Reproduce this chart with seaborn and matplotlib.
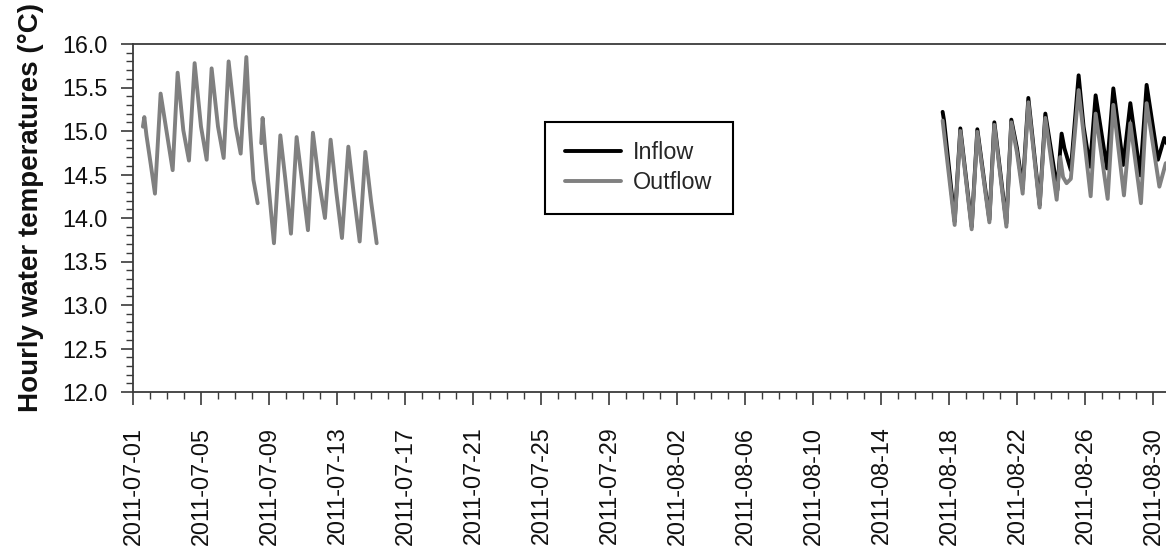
import matplotlib
matplotlib.use("Agg")
import matplotlib.pyplot as plt
import matplotlib.dates as mdates
from matplotlib.lines import Line2D
from matplotlib.ticker import MultipleLocator, FormatStrFormatter
import pandas as pd
import seaborn as sns

# Hourly water temperature turning points (°C)
outflow_jul1_time = [
    "2011-07-01 14:00", "2011-07-01 16:00", "2011-07-01 19:00", "2011-07-02 01:00",
    "2011-07-02 07:00", "2011-07-02 15:00", "2011-07-03 02:00", "2011-07-03 08:00",
    "2011-07-03 15:00", "2011-07-03 23:00", "2011-07-04 07:00", "2011-07-04 15:00",
    "2011-07-05 00:00", "2011-07-05 08:00", "2011-07-05 15:00", "2011-07-06 00:00",
    "2011-07-06 08:00", "2011-07-06 15:00", "2011-07-07 01:00", "2011-07-07 08:00",
    "2011-07-07 16:00", "2011-07-07 21:00", "2011-07-08 02:00", "2011-07-08 08:00",
]
outflow_jul1_temp = [
    15.05, 15.16, 14.95, 14.62,
    14.28, 15.43, 14.86, 14.55,
    15.67, 15.01, 14.66, 15.78,
    15.05, 14.67, 15.72, 15.05,
    14.69, 15.80, 15.05, 14.74,
    15.85, 15.05, 14.44, 14.17,
]

outflow_jul2_time = [
    "2011-07-08 13:00", "2011-07-08 15:00", "2011-07-08 19:00", "2011-07-09 07:00",
    "2011-07-09 16:00", "2011-07-09 23:00", "2011-07-10 07:00", "2011-07-10 15:00",
    "2011-07-10 23:00", "2011-07-11 07:00", "2011-07-11 14:00", "2011-07-11 22:00",
    "2011-07-12 07:00", "2011-07-12 15:00", "2011-07-12 23:00", "2011-07-13 07:00",
    "2011-07-13 16:00", "2011-07-14 00:00", "2011-07-14 08:00", "2011-07-14 16:00",
    "2011-07-15 00:00", "2011-07-15 08:00",
]
outflow_jul2_temp = [
    14.86, 15.15, 14.75, 13.71,
    14.95, 14.45, 13.82, 14.93,
    14.40, 13.86, 14.98, 14.45,
    14.00, 14.90, 14.30, 13.77,
    14.82, 14.25, 13.73, 14.76,
    14.20, 13.71,
]

inflow_aug_time = [
    "2011-08-17 15:00", "2011-08-17 17:00", "2011-08-18 08:00", "2011-08-18 16:00",
    "2011-08-19 08:00", "2011-08-19 16:00", "2011-08-20 09:00", "2011-08-20 16:00",
    "2011-08-21 09:00", "2011-08-21 16:00", "2011-08-22 00:00", "2011-08-22 08:00",
    "2011-08-22 16:00", "2011-08-23 08:00", "2011-08-23 16:00", "2011-08-24 09:00",
    "2011-08-24 13:00", "2011-08-24 15:00", "2011-08-24 19:00", "2011-08-25 04:00",
    "2011-08-25 15:00", "2011-08-25 22:00", "2011-08-26 07:00", "2011-08-26 15:00",
    "2011-08-27 07:00", "2011-08-27 16:00", "2011-08-28 06:00", "2011-08-28 16:00",
    "2011-08-29 06:00", "2011-08-29 15:00", "2011-08-30 07:00", "2011-08-30 16:00",
    "2011-08-30 20:00",
]
inflow_aug_temp = [
    15.22, 15.12, 13.96, 15.03,
    13.90, 15.02, 13.98, 15.10,
    13.94, 15.13, 14.80, 14.34,
    15.38, 14.15, 15.20, 14.32,
    14.78, 14.97, 14.80, 14.55,
    15.64, 15.05, 14.59, 15.41,
    14.57, 15.49, 14.61, 15.32,
    14.49, 15.53, 14.67, 14.92,
    14.85,
]

outflow_aug_time = [
    "2011-08-17 15:00", "2011-08-18 08:00", "2011-08-18 16:00", "2011-08-19 08:00",
    "2011-08-19 16:00", "2011-08-20 09:00", "2011-08-20 16:00", "2011-08-21 09:00",
    "2011-08-21 16:00", "2011-08-22 00:00", "2011-08-22 08:00", "2011-08-22 16:00",
    "2011-08-23 08:00", "2011-08-23 16:00", "2011-08-24 08:00", "2011-08-24 13:00",
    "2011-08-24 17:00", "2011-08-24 22:00", "2011-08-25 04:00", "2011-08-25 15:00",
    "2011-08-26 08:00", "2011-08-26 15:00", "2011-08-27 08:00", "2011-08-27 16:00",
    "2011-08-28 07:00", "2011-08-28 16:00", "2011-08-29 07:00", "2011-08-29 15:00",
    "2011-08-30 09:00", "2011-08-30 18:00",
]
outflow_aug_temp = [
    15.12, 13.92, 15.00, 13.87,
    14.99, 13.95, 15.07, 13.90,
    15.10, 14.75, 14.28, 15.33,
    14.12, 15.15, 14.21, 14.70,
    14.47, 14.40, 14.45, 15.47,
    14.25, 15.20, 14.22, 15.30,
    14.26, 15.09, 14.17, 15.32,
    14.36, 14.63,
]

series_names = ["Inflow", "Outflow"]
series_colors = {"Inflow": "#000000", "Outflow": "#808080"}
tick_dates = pd.date_range("2011-07-01", "2011-08-30", freq="4D")

segments = [
    ("Inflow", "inflow_aug", inflow_aug_time, inflow_aug_temp),
    ("Outflow", "outflow_jul1", outflow_jul1_time, outflow_jul1_temp),
    ("Outflow", "outflow_jul2", outflow_jul2_time, outflow_jul2_temp),
    ("Outflow", "outflow_aug", outflow_aug_time, outflow_aug_temp),
]
df = pd.concat(
    [pd.DataFrame({"time": pd.to_datetime(t), "temp": v, "series": s, "segment": g})
     for s, g, t, v in segments],
    ignore_index=True,
)

sns.set_style("ticks")
plt.rcParams["font.family"] = ["Liberation Sans", "DejaVu Sans"]

W, H = 1166, 554
fig = plt.figure(figsize=(W / 100, H / 100), dpi=100)
ax = fig.add_axes([133 / W, 1 - 392 / H, 1037 / W, 348 / H])

lw = 2.8
sns.lineplot(data=df, x="time", y="temp", hue="series", hue_order=series_names,
             palette=series_colors, units="segment", estimator=None, sort=False,
             linewidth=lw, ax=ax, legend=False)
for line in ax.get_lines():
    line.set_solid_joinstyle("round")
    line.set_solid_capstyle("round")

ax.set_xlim(pd.Timestamp("2011-07-01"), pd.Timestamp("2011-08-31"))
ax.set_ylim(12.0, 16.0)

ax.set_xticks(tick_dates)
ax.xaxis.set_major_formatter(mdates.DateFormatter("%Y-%m-%d"))
ax.xaxis.set_minor_locator(mdates.DayLocator())
ax.yaxis.set_major_locator(MultipleLocator(0.5))
ax.yaxis.set_minor_locator(MultipleLocator(0.1))
ax.yaxis.set_major_formatter(FormatStrFormatter("%.1f"))

spine_col = "#3a3a3a"
for sp in ax.spines.values():
    sp.set_color(spine_col)
    sp.set_linewidth(1.3)

ax.tick_params(axis="both", which="major", direction="out", length=9, width=1.2,
               color=spine_col, labelsize=16.8, labelcolor="#111111")
ax.tick_params(axis="both", which="minor", direction="out", length=5, width=1.0,
               color=spine_col)
ax.tick_params(axis="x", which="major", pad=16)
ax.tick_params(axis="y", which="major", pad=9)
plt.setp(ax.get_xticklabels(), rotation=90)

ax.set_xlabel("")
ax.set_ylabel("Hourly water temperatures (°C)", fontsize=20, fontweight="bold",
              color="#111111")
ax.yaxis.set_label_coords(-0.086, 0.53)

handles = [Line2D([], [], color=series_colors[n], lw=lw) for n in series_names]
leg = ax.legend(handles, series_names, loc="upper left", bbox_to_anchor=(0.397, 0.777),
                frameon=True, fancybox=False, edgecolor="black", framealpha=1,
                fontsize=16.8, handlelength=2.4, handletextpad=0.55, borderpad=0.85,
                labelspacing=0.3, borderaxespad=0)
leg.get_frame().set_linewidth(1.5)

fig.savefig("out.png", dpi=100)
